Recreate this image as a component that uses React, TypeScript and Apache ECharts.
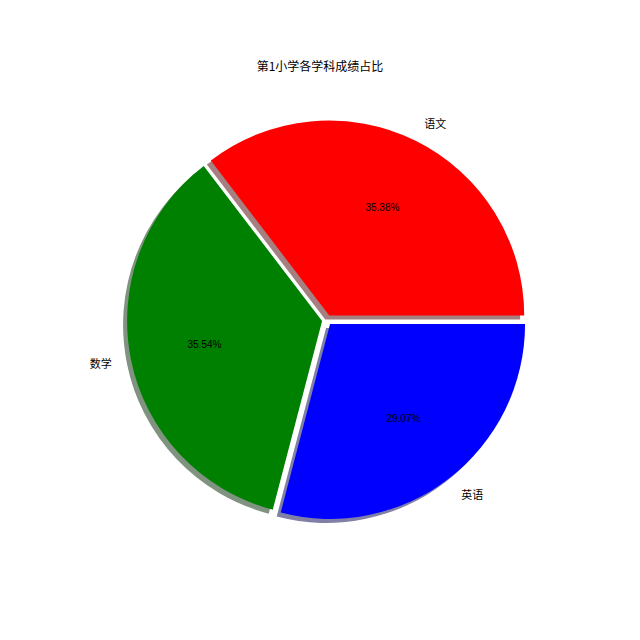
import React, { useEffect, useRef } from "react";
import * as echarts from "echarts";

const titleText = "第1小学各学科成绩占比";
const subjects = ["语文", "数学", "英语"];
const shares = [35.38, 35.54, 29.07];
const colors = ["#ff0000", "#008000", "#0000ff"];
const shadowColors = ["#a68080", "#809380", "#8080a6"];

export default function App() {
  const ref = useRef<HTMLDivElement>(null);
  useEffect(() => {
    const chart = echarts.init(ref.current as HTMLDivElement, null, { renderer: "svg" });
    const R = 195;
    const cx = 327;
    const cy = 320;
    const explode = 5;
    const sh = 4;
    const cjk = '"Noto Sans CJK SC", sans-serif';
    const base: any = {
      type: "pie",
      clockwise: false,
      startAngle: 0,
      selectedMode: "multiple",
      selectedOffset: explode,
      avoidLabelOverlap: false,
      silent: true,
      emphasis: { disabled: true },
      animation: false,
      minAngle: 0,
    };
    const mk = (cols: string[]) =>
      subjects.map((name, i) => ({
        name,
        value: shares[i],
        selected: true,
        itemStyle: { color: cols[i], borderWidth: 0 },
        select: { itemStyle: { color: cols[i], borderWidth: 0 } },
      }));
    chart.setOption({
      animation: false,
      backgroundColor: "#ffffff",
      title: {
        text: titleText,
        left: "center",
        top: 59,
        padding: 0,
        textStyle: { fontSize: 12, fontWeight: "normal", color: "#000", fontFamily: cjk },
      },
      series: [
        {
          ...base,
          name: "shadow",
          center: [cx - sh, cy + sh],
          radius: R,
          data: mk(shadowColors),
          label: { show: false },
          labelLine: { show: false },
        },
        {
          ...base,
          name: "main",
          center: [cx, cy],
          radius: R,
          data: mk(colors),
          label: {
            show: true,
            position: "outside",
            formatter: "{b}",
            fontSize: 11,
            color: "#000",
            fontFamily: cjk,
            distanceToLabelLine: 0,
            alignTo: "none",
          },
          labelLine: { show: false, length: R * 0.1, length2: 0 },
        },
        {
          ...base,
          name: "pct",
          center: [cx, cy],
          radius: R * 1.2,
          data: mk(["rgba(0,0,0,0)", "rgba(0,0,0,0)", "rgba(0,0,0,0)"]),
          label: {
            show: true,
            position: "inside",
            formatter: (p: any) => `${Number(p.value).toFixed(2)}%`,
            fontSize: 10,
            color: "#000",
            fontFamily: '"Liberation Sans", Arial, sans-serif',
          },
          labelLine: { show: false },
        },
      ],
    });
    return () => chart.dispose();
  }, []);
  return <div ref={ref} style={{ position: "fixed", left: 0, top: 0, width: 640, height: 640 }} />;
}
